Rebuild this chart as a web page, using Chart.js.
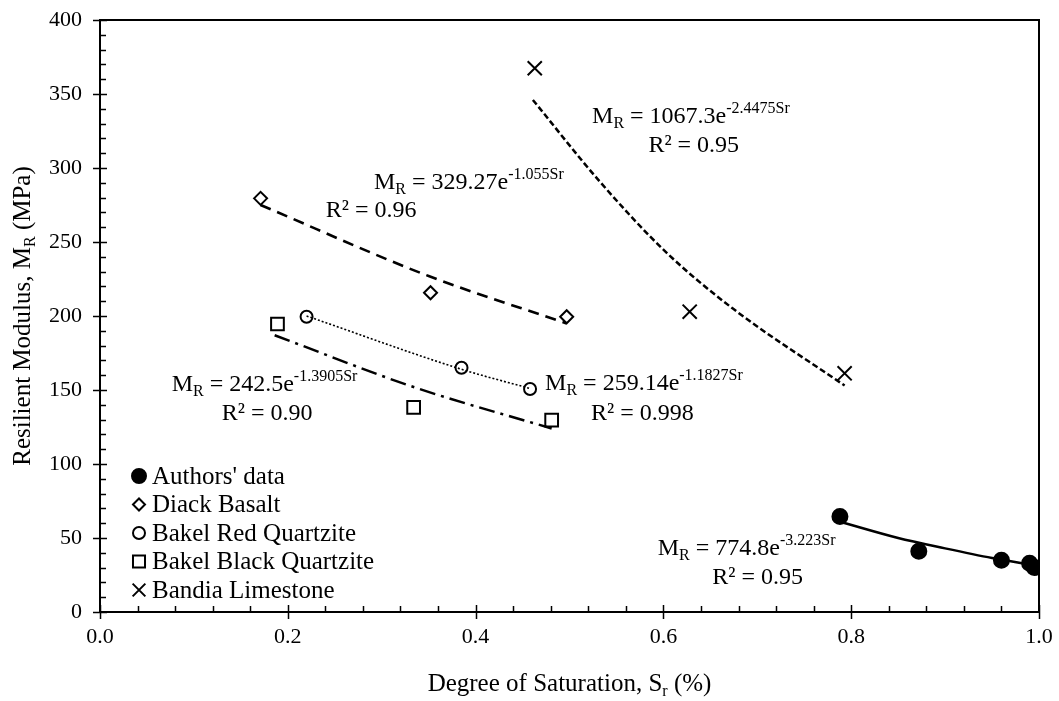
<!DOCTYPE html>
<html><head><meta charset="utf-8">
<script src="https://cdn.jsdelivr.net/npm/chart.js@4.4.1/dist/chart.umd.min.js"></script>
<style>html,body{margin:0;padding:0;background:#fff;}#wrap{width:1059px;height:701px;}</style>
</head><body><div id="wrap"><canvas id="c" width="1059" height="701"></canvas></div>
<script>
// ---- measured points (Sr, MR) ----
const authorsSr = [0.788, 0.872, 0.960, 0.990, 0.995];
const authorsMr = [64.5, 41, 35, 33, 30];
const diackSr = [0.171, 0.352, 0.497];
const diackMr = [279.5, 215.7, 199.5];
const redSr = [0.220, 0.385, 0.458];
const redMr = [199.5, 165, 150.7];
const blackSr = [0.189, 0.334, 0.481];
const blackMr = [194.6, 138.3, 129.7];
const bandiaSr = [0.463, 0.628, 0.793];
const bandiaMr = [367.4, 202.9, 161.3];

// ---- trend lines ----
const authorsTrendSr = [0.788, 0.85, 0.90, 0.95, 1.0];
const authorsTrendMr = [61, 50, 43, 36.5, 31];
const diackTrendSr = [0.171, 0.35, 0.497];
const diackTrendMr = [275, 227, 195];
const redTrendSr = [0.22, 0.385, 0.458];
const redTrendMr = [200, 164, 151];
const blackTrendSr = [0.186, 0.334, 0.481];
const blackTrendMr = [187, 152, 124];
const bandiaTrendSr = [0.461, 0.532, 0.603, 0.674, 0.793];
const bandiaTrendMr = [346, 291, 243, 205, 153];

// ---- labels ----
const seriesNames = ["Authors' data", "Diack Basalt", "Bakel Red Quartzite", "Bakel Black Quartzite", "Bandia Limestone"];
const xTickValues = [0, 0.2, 0.4, 0.6, 0.8, 1.0];
const yTickValues = [0, 50, 100, 150, 200, 250, 300, 350, 400];
const eqCoefs = ["1067.3", "329.27", "242.5", "259.14", "774.8"];
const eqExps = ["-2.4475Sr", "-1.055Sr", "-1.3905Sr", "-1.1827Sr", "-3.223Sr"];
const eqR2 = ["0.95", "0.96", "0.90", "0.998", "0.95"];
const xTitleParts = ["Degree of Saturation, S", "r", " (%)"];
const yTitleParts = ["Resilient Modulus, M", "R", " (MPa)"];

// ---- layout (not data) ----
const FONT = '"Liberation Serif", "Times New Roman", serif';
const eqPos = [ // [x1,y1 (data), x2,y2 (data)] left-baseline of each line
  [0.524, 330.4, 0.584, 310.8],
  [0.2918, 285.8, 0.2404, 266.9],
  [0.0763, 149.3, 0.1296, 129.7],
  [0.474, 150, 0.523, 129.7],
  [0.594, 38.5, 0.652, 18.9]
];

function pts(xs, ys) { return xs.map((x, i) => ({x: x, y: ys[i]})); }

const markerStyles = [
  {pointStyle: 'circle', radius: 7.5, fill: '#000'},
  {pointStyle: 'rectRot', radius: 6.5, fill: 'rgba(0,0,0,0)'},
  {pointStyle: 'circle', radius: 6, fill: 'rgba(0,0,0,0)'},
  {pointStyle: 'rect', radius: 9, fill: 'rgba(0,0,0,0)'},
  {pointStyle: 'crossRot', radius: 10, fill: 'rgba(0,0,0,0)'}
];

function scatterDs(i, xs, ys) {
  const m = markerStyles[i];
  return {label: seriesNames[i], data: pts(xs, ys), showLine: false, pointStyle: m.pointStyle,
    pointRadius: m.radius, backgroundColor: m.fill, borderColor: '#000', pointBorderWidth: 2, order: 0};
}
function trendDs(xs, ys, dash, width) {
  return {label: '', data: pts(xs, ys), showLine: true, pointRadius: 0, borderColor: '#000',
    borderWidth: width, borderDash: dash, cubicInterpolationMode: 'monotone', fill: false, order: 1};
}

const datasets = [
  scatterDs(0, authorsSr, authorsMr),
  scatterDs(1, diackSr, diackMr),
  scatterDs(2, redSr, redMr),
  scatterDs(3, blackSr, blackMr),
  scatterDs(4, bandiaSr, bandiaMr),
  trendDs(authorsTrendSr, authorsTrendMr, [], 2.5),
  trendDs(diackTrendSr, diackTrendMr, [11, 7], 2.6),
  trendDs(redTrendSr, redTrendMr, [2, 2], 1.6),
  trendDs(blackTrendSr, blackTrendMr, [16, 6, 3, 6], 2.5),
  trendDs(bandiaTrendSr, bandiaTrendMr, [6, 3], 2.5)
];

function drawRich(ctx, parts, x, y, align) {
  let total = 0;
  parts.forEach(p => { ctx.font = p.size + 'px ' + FONT; p.w = ctx.measureText(p.t).width; total += p.w; });
  let cx = align === 'center' ? x - total / 2 : x;
  ctx.textAlign = 'left'; ctx.textBaseline = 'alphabetic';
  parts.forEach(p => { ctx.font = p.size + 'px ' + FONT; ctx.fillText(p.t, cx, y + (p.dy || 0)); cx += p.w; });
}

const framePlugin = {
  id: 'frame',
  afterDraw(chart) {
    const ctx = chart.ctx, a = chart.chartArea, xs = chart.scales.x, ys = chart.scales.y;
    ctx.save();
    ctx.strokeStyle = '#000'; ctx.fillStyle = '#000';
    ctx.lineWidth = 2;
    ctx.strokeRect(a.left, a.top, a.right - a.left, a.bottom - a.top);
    ctx.lineWidth = 1.5;
    ctx.beginPath();
    for (let k = 0; k <= 25; k++) {
      const v = k * 0.04; const px = Math.round(xs.getPixelForValue(v)) + 0.5;
      if (k % 5 === 0) { ctx.moveTo(px, a.bottom - 7); ctx.lineTo(px, a.bottom + 7); }
      else { ctx.moveTo(px, a.bottom); ctx.lineTo(px, a.bottom - 6); }
    }
    for (let k = 0; k <= 40; k++) {
      const v = k * 10; const py = Math.round(ys.getPixelForValue(v)) + 0.5;
      if (k % 5 === 0) { ctx.moveTo(a.left - 7, py); ctx.lineTo(a.left + 7, py); }
      else { ctx.moveTo(a.left, py); ctx.lineTo(a.left + 6, py); }
    }
    ctx.stroke();

    // axis titles
    drawRich(ctx, [{t: xTitleParts[0], size: 25}, {t: xTitleParts[1], size: 16, dy: 5}, {t: xTitleParts[2], size: 25}],
      (a.left + a.right) / 2, 691, 'center');
    ctx.save();
    ctx.translate(30, (a.top + a.bottom) / 2);
    ctx.rotate(-Math.PI / 2);
    drawRich(ctx, [{t: yTitleParts[0], size: 25}, {t: yTitleParts[1], size: 16, dy: 5}, {t: yTitleParts[2], size: 25}], 0, 0, 'center');
    ctx.restore();

    // equations
    for (let i = 0; i < eqCoefs.length; i++) {
      const p = eqPos[i];
      const x1 = xs.getPixelForValue(p[0]), y1 = ys.getPixelForValue(p[1]);
      const x2 = xs.getPixelForValue(p[2]), y2 = ys.getPixelForValue(p[3]);
      drawRich(ctx, [{t: 'M', size: 24}, {t: 'R', size: 16, dy: 5}, {t: ' = ' + eqCoefs[i] + 'e', size: 24},
        {t: eqExps[i], size: 16, dy: -10}], x1, y1, 'left');
      drawRich(ctx, [{t: 'R\u00B2 = ' + eqR2[i], size: 24}], x2, y2, 'left');
    }

    // legend
    const lx = 139, ly0 = 476, dy = 28.5;
    const legendRadius = [7, 6, 6, 8.5, 9];
    for (let i = 0; i < seriesNames.length; i++) {
      const m = markerStyles[i]; const y = ly0 + i * dy;
      ctx.lineWidth = 2; ctx.strokeStyle = '#000'; ctx.fillStyle = m.fill;
      Chart.helpers.drawPoint(ctx, {pointStyle: m.pointStyle, radius: legendRadius[i], rotation: 0, borderWidth: 2}, lx, y);
      ctx.fillStyle = '#000';
      ctx.font = '25px ' + FONT; ctx.textAlign = 'left'; ctx.textBaseline = 'middle';
      ctx.fillText(seriesNames[i], 152, y + 1);
    }
    ctx.restore();
  }
};

new Chart(document.getElementById('c'), {
  type: 'scatter',
  data: {datasets: datasets},
  options: {
    responsive: false, animation: false, devicePixelRatio: 1,
    layout: {padding: {top: 20, right: 20, left: 0, bottom: 0}},
    plugins: {legend: {display: false}, tooltip: {enabled: false}},
    scales: {
      x: {type: 'linear', min: 0, max: 1,
        afterFit(s) { s.height = 89; s.paddingLeft = 0; s.paddingRight = 0; },
        afterBuildTicks(s) { s.ticks = xTickValues.map(v => ({value: v})); },
        grid: {display: false, drawTicks: false}, border: {display: false},
        ticks: {padding: 12, color: '#000', font: {family: FONT, size: 22}, maxRotation: 0, autoSkip: false,
          callback: v => Number(v).toFixed(1)}},
      y: {type: 'linear', min: 0, max: 400,
        afterFit(s) { s.width = 100; s.paddingTop = 0; s.paddingBottom = 0; },
        afterBuildTicks(s) { s.ticks = yTickValues.map(v => ({value: v})); },
        grid: {display: false, drawTicks: false}, border: {display: false},
        ticks: {padding: 18, color: '#000', font: {family: FONT, size: 22}, autoSkip: false,
          callback: v => String(v)}}
    }
  },
  plugins: [framePlugin]
});
</script></body></html>
